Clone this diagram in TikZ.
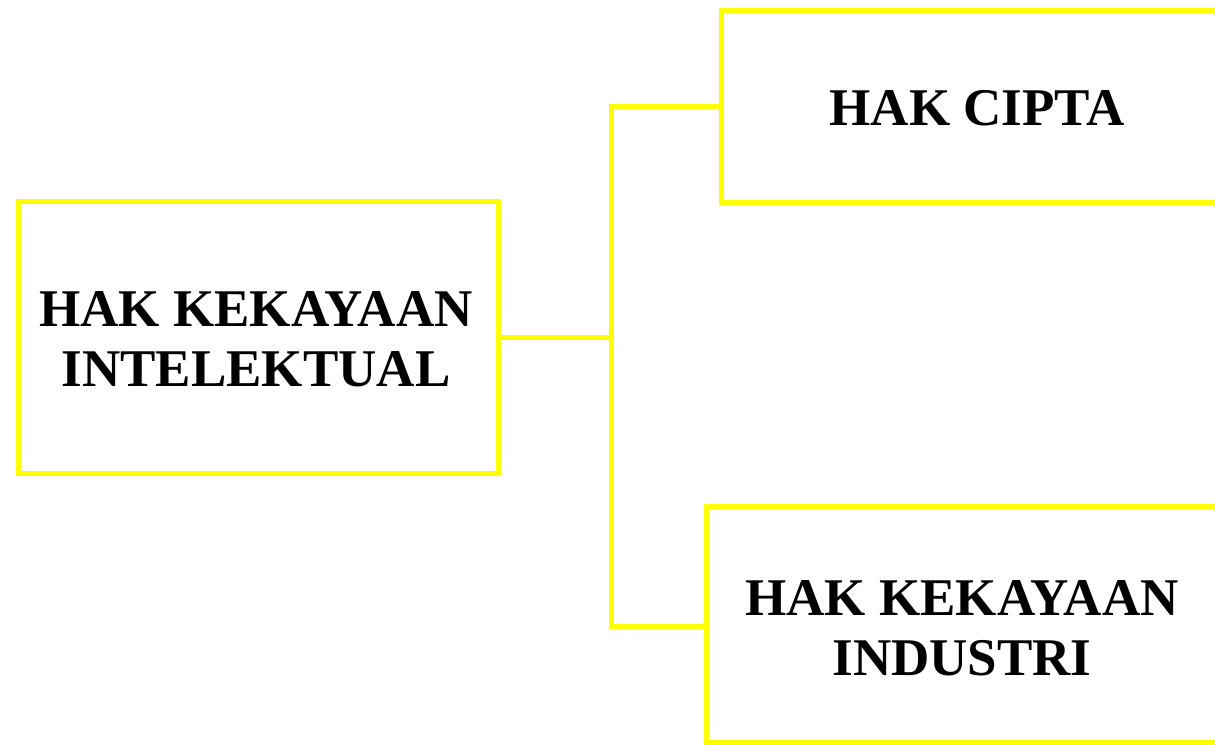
\documentclass[tikz,border=0pt]{standalone}
\usepackage{fontspec}
\setmainfont{Liberation Serif}
\definecolor{boxyellow}{RGB}{255,255,0}
\tikzset{
  hkibox/.style={draw=boxyellow, line width=5pt, rectangle, inner sep=0pt, align=center,
    font=\fontsize{53}{60}\selectfont\bfseries, text=black},
  link/.style={draw=boxyellow, line width=5pt}
}
\begin{document}
\begin{tikzpicture}[x=1pt,y=-1pt]
\useasboundingbox (0,0) rectangle (1215,744);
\clip (0,0) rectangle (1215,744);
\node[hkibox, minimum width=480pt, minimum height=272pt] (L) at (258,337) {};
\node[font=\fontsize{53}{60}\selectfont\bfseries, align=center, inner sep=0pt] (Lt) at (256,339) {HAK KEKAYAAN\\INTELEKTUAL\hspace{12pt}};
\node[hkibox, minimum width=512pt, minimum height=192pt] (T) at (977,106) {};
\node[font=\fontsize{53}{60}\selectfont\bfseries, inner sep=0pt] (Tt) at (977,108) {HAK CIPTA};
\node[hkibox, minimum width=512pt, minimum height=236pt] (B) at (962,624) {};
\node[font=\fontsize{53}{60}\selectfont\bfseries, align=center, inner sep=0pt] (Bt) at (962,628) {HAK KEKAYAAN\\INDUSTRI};
\draw[link] (L.east) -- ++(111,0) coordinate (j);
\draw[link, line cap=rect] (T.west) -| (j);
\draw[link, line cap=rect] (j) |- ([yshift=-2pt]B.west);
\end{tikzpicture}
\end{document}
